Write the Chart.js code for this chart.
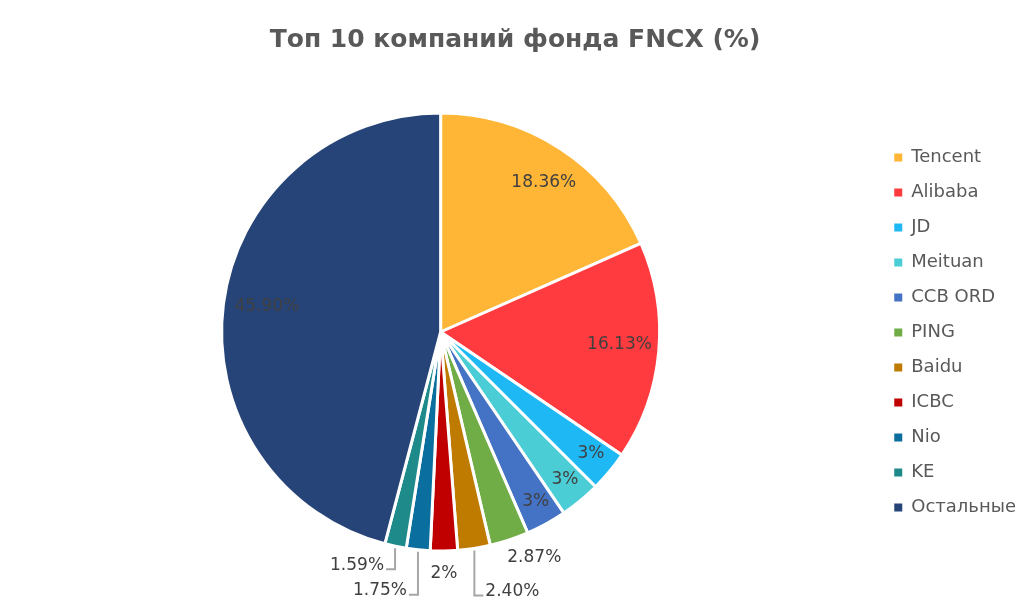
<!DOCTYPE html>
<html>
<head>
<meta charset="utf-8">
<script src="https://cdn.jsdelivr.net/npm/chart.js@4/dist/chart.umd.min.js"></script>
<style>
  html, body { margin: 0; padding: 0; background: #fff; }
  #wrap { width: 1034px; height: 608px; }
</style>
</head>
<body>
<div id="wrap"><canvas id="chart-fncx"></canvas></div>
<script>
var companies = ["Tencent", "Alibaba", "JD", "Meituan", "CCB ORD", "PING", "Baidu", "ICBC", "Nio", "KE", "Остальные"];
var weights = [18.36, 16.13, 3, 3, 3, 2.87, 2.40, 2, 1.75, 1.59, 45.90];
var weightText = ["18.36%", "16.13%", "3%", "3%", "3%", "2.87%", "2.40%", "2%", "1.75%", "1.59%", "45.90%"];
var sliceColors = ["#ffb636", "#ff3b3f", "#1eb9f5", "#4bcdd6", "#4472c4", "#70ad47", "#bf7b00", "#c00000", "#0a6e9e", "#1f8a8a", "#264478"];

// where each value label sits (r = fraction of radius inside the slice,
// dx/dy = offset from the slice edge, drop = leader line length)
var labelPlace = [
    {r: 0.83, dx: 4, dy: 6}, {r: 0.82}, {r: 0.89}, {r: 0.89}, {r: 0.9},
    {dx: 25, dy: 18}, {drop: 45, side: 1}, {dx: 0, dy: 23},
    {drop: 43, side: -1}, {drop: 21, side: -1}, {r: 0.8}
];

var FONT = '"DejaVu Sans", sans-serif';

var sliceLabels = {
    id: 'sliceLabels',
    afterDatasetsDraw: function(chart) {
        var ctx = chart.ctx;
        var meta = chart.getDatasetMeta(0);
        ctx.save();
        ctx.font = '17px ' + FONT;
        ctx.fillStyle = '#404040';
        ctx.textBaseline = 'middle';
        meta.data.forEach(function(arc, i) {
            var p = arc.getProps(['x', 'y', 'startAngle', 'endAngle', 'outerRadius'], true);
            var mid = (p.startAngle + p.endAngle) / 2;
            var c = Math.cos(mid), s = Math.sin(mid);
            var pl = labelPlace[i];
            if (pl.r) {
                ctx.textAlign = 'center';
                ctx.fillText(weightText[i],
                    p.x + c * p.outerRadius * pl.r + (pl.dx || 0),
                    p.y + s * p.outerRadius * pl.r - 3 + (pl.dy || 0));
            } else if (pl.drop) {
                var ex = p.x + c * (p.outerRadius + 2);
                var ey = p.y + s * (p.outerRadius + 2);
                var ly = ey + pl.drop;
                ctx.strokeStyle = '#a6a6a6';
                ctx.lineWidth = 2;
                ctx.beginPath();
                ctx.moveTo(ex, ey);
                ctx.lineTo(ex, ly);
                ctx.lineTo(ex + pl.side * 9, ly);
                ctx.stroke();
                ctx.textAlign = pl.side > 0 ? 'left' : 'right';
                ctx.fillText(weightText[i], ex + pl.side * 11, ly - 4);
            } else {
                ctx.textAlign = 'center';
                ctx.fillText(weightText[i], p.x + c * p.outerRadius + pl.dx, p.y + s * p.outerRadius + pl.dy);
            }
        });
        ctx.restore();
    }
};

var chartF = document.getElementById("chart-fncx");
var chartFncx = new Chart(chartF, {
    type: 'pie',
    plugins: [sliceLabels],
    options: {
        responsive: true,
        maintainAspectRatio: false,
        animation: false,
        layout: {
            padding: {left: 4, right: 8, top: 0, bottom: 0}
        },
        plugins: {
            title: {
                display: true,
                text: 'Топ 10 компаний фонда FNCX (%)',
                color: '#595959',
                font: {family: FONT, size: 25, weight: 'bold'},
                padding: {top: 25, bottom: 1}
            },
            tooltip: {enabled: false},
            legend: {
                position: 'right',
                title: {
                    display: true,
                    text: '',
                    font: {size: 1},
                    padding: 28
                },
                labels: {
                    boxWidth: 8,
                    boxHeight: 8,
                    padding: 17,
                    color: '#595959',
                    font: {family: FONT, size: 18},
                    generateLabels: function(chart) {
                        var items = Chart.overrides.pie.plugins.legend.labels.generateLabels(chart);
                        items.forEach(function(it) { it.lineWidth = 0; });
                        return items;
                    }
                }
            }
        }
    },
    data: {
        labels: companies,
        datasets: [{
            data: weights,
            radius: 219,
            borderWidth: 3,
            borderColor: '#ffffff',
            backgroundColor: sliceColors
        }]
    }
});
</script>
</body>
</html>
